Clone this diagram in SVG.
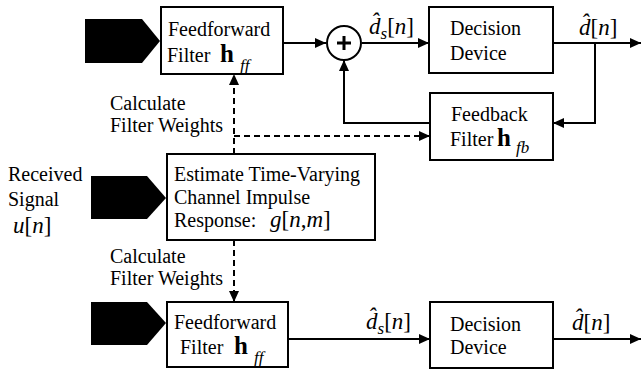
<svg xmlns="http://www.w3.org/2000/svg" width="642" height="374" viewBox="0 0 642 374">
<style>
  text { font-family: "Liberation Serif", "Tinos", "Times New Roman", "DejaVu Serif", serif; font-size: 20px; fill: #000; }
  .box { fill: #fff; stroke: #000; stroke-width: 2; }
  .src { fill: #000; stroke: none; }
  .ln { fill: none; stroke: #000; stroke-width: 2; }
  .dash { fill: none; stroke: #000; stroke-width: 2; stroke-dasharray: 6 4; }
  .math { font-style: italic; font-size: 23px; }
  .up { font-style: normal; }
  .bold { font-weight: bold; font-size: 25px; }
  .sub { font-style: italic; font-size: 17px; }
</style>
<defs>
  <marker id="arr" markerUnits="userSpaceOnUse" markerWidth="11" markerHeight="10" refX="11" refY="5" orient="auto">
    <path d="M0,0 L11,5 L0,10 z" fill="#000"/>
  </marker>
</defs>

<g id="connectors">
  <line class="ln" x1="283" y1="43" x2="326" y2="43" marker-end="url(#arr)"/>
  <line class="ln" x1="362" y1="43" x2="429" y2="43" marker-end="url(#arr)"/>
  <line class="ln" x1="553" y1="43" x2="641" y2="43" marker-end="url(#arr)"/>
  <polyline class="ln" points="595,43 595,123 553,123" marker-end="url(#arr)"/>
  <polyline class="ln" points="430,123 344,123 344,60" marker-end="url(#arr)"/>
  <line class="dash" x1="234" y1="154" x2="234" y2="74" marker-end="url(#arr)"/>
  <line class="dash" x1="234" y1="136" x2="430" y2="136" marker-end="url(#arr)"/>
  <line class="dash" x1="234" y1="240" x2="234" y2="302" marker-end="url(#arr)"/>
  <line class="ln" x1="288" y1="339" x2="430" y2="339" marker-end="url(#arr)"/>
  <line class="ln" x1="553" y1="339" x2="641" y2="339" marker-end="url(#arr)"/>
</g>

<g id="input-top">
  <polygon class="src" points="85,19 142,19 160,41 142,63 85,63"/>
</g>
<g id="input-mid">
  <polygon class="src" points="91,176 147,176 166,198 147,219 91,219"/>
</g>
<g id="input-bottom">
  <polygon class="src" points="91,302 147,302 166,323 147,345 91,345"/>
</g>

<g id="ff-top">
  <rect class="box" x="161" y="7" width="122" height="67"/>
  <text x="168" y="36">Feedforward</text>
  <text x="167" y="62">Filter</text>
  <text class="bold" x="220" y="62">h</text>
  <text class="sub" x="240" y="71">ff</text>
</g>

<g id="sum">
  <circle class="box" cx="344" cy="43" r="17"/>
  <path d="M337,43 H351 M344,36 V50" stroke="#000" stroke-width="3" fill="none"/>
</g>

<g id="dec-top">
  <rect class="box" x="429" y="7" width="124" height="66"/>
  <text x="450" y="35">Decision</text>
  <text x="450" y="60">Device</text>
</g>

<g id="fb">
  <rect class="box" x="430" y="93" width="123" height="67"/>
  <text x="451" y="121">Feedback</text>
  <text x="450" y="146">Filter</text>
  <text class="bold" x="497" y="146">h</text>
  <text class="sub" x="516" y="153">fb</text>
</g>

<g id="est">
  <rect class="box" x="167" y="154" width="208" height="86"/>
  <text x="174" y="181">Estimate Time-Varying</text>
  <text x="174" y="204">Channel Impulse</text>
  <text x="174" y="227">Response:</text>
  <text class="math" x="270" y="227">g<tspan class="up">[</tspan>n<tspan class="up">,</tspan>m<tspan class="up">]</tspan></text>
</g>

<g id="ff-bottom">
  <rect class="box" x="167" y="302" width="121" height="65"/>
  <text x="174" y="329">Feedforward</text>
  <text x="180" y="354">Filter</text>
  <text class="bold" x="234" y="354">h</text>
  <text class="sub" x="254" y="363">ff</text>
</g>

<g id="dec-bottom">
  <rect class="box" x="430" y="302" width="123" height="66"/>
  <text x="450" y="331">Decision</text>
  <text x="450" y="354">Device</text>
</g>

<g id="labels">
  <text class="math" x="369" y="34">d̂<tspan class="sub" dy="5">s</tspan><tspan class="up" dy="-5">[</tspan>n<tspan class="up">]</tspan></text>
  <text class="math" x="579" y="35">d̂<tspan class="up">[</tspan>n<tspan class="up">]</tspan></text>
  <text class="math" x="366" y="329">d̂<tspan class="sub" dy="5">s</tspan><tspan class="up" dy="-5">[</tspan>n<tspan class="up">]</tspan></text>
  <text class="math" x="572" y="330">d̂<tspan class="up">[</tspan>n<tspan class="up">]</tspan></text>
  <text x="110" y="110">Calculate</text>
  <text x="110" y="132">Filter Weights</text>
  <text x="110" y="263">Calculate</text>
  <text x="110" y="285">Filter Weights</text>
  <text x="8" y="181">Received</text>
  <text x="8" y="206">Signal</text>
  <text class="math" x="13" y="233">u<tspan class="up">[</tspan>n<tspan class="up">]</tspan></text>
</g>
</svg>
